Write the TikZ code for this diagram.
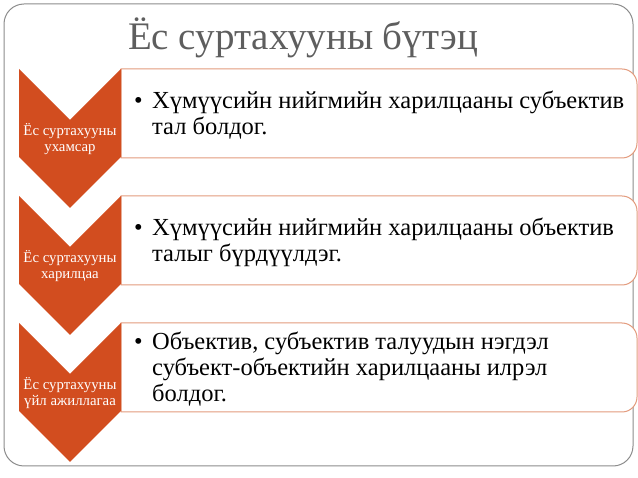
\documentclass[tikz,border=0pt]{standalone}
\usepackage{fontspec}
\setmainfont{Liberation Serif}
\usepackage{xcolor}
\definecolor{chevron_orange}{HTML}{D24D1F}
\definecolor{box_border}{HTML}{E39B7D}
\definecolor{frame_grey}{HTML}{8C8C8C}
\definecolor{title_grey}{HTML}{5E5E5E}

\begin{document}
\begin{tikzpicture}[x=1pt,y=-1pt,
        chevtext/.style={white, align=center, inner sep=0pt, font=\fontsize{14.8}{16}\selectfont},
        bodytext/.style={black, align=left, inner sep=0pt, font=\fontsize{24.5}{26}\selectfont}]
        % Cadre
        \useasboundingbox (0,0) rectangle (638,478);
        \draw[frame_grey, line width=1pt, rounded corners=20pt] (4,4) rectangle (633,466);
        % Titre
        \node[title_grey, font=\fontsize{39}{48}\selectfont] (titre) at (303,38) {Ёс суртахууны бүтэц};

        % Chevrons et rectangles
        \foreach \i/\ytop/\label/\lines in {1/69/{ухамсар}/{Хүмүүсийн нийгмийн харилцааны субъектив\\тал болдог.}, 2/196/{харилцаа}/{Хүмүүсийн нийгмийн харилцааны объектив\\талыг бүрдүүлдэг.}, 3/323/{үйл ажиллагаа}/{Объектив, субъектив талуудын нэгдэл\\субъект-объектийн харилцааны илрэл\\болдог.}} {
        % Rectangle arrondi a droite
        \filldraw[fill=white, draw=box_border, line width=1pt] (121,\ytop) -- (622,\ytop) arc[start angle=90, end angle=0, radius=15pt] -- (637,\ytop+74) arc[start angle=0, end angle=-90, radius=15pt] -- (121,\ytop+89) -- cycle;
        % Chevron
        \fill[chevron_orange] (19,\ytop) -- (70,\ytop+51) -- (121,\ytop) -- (121,\ytop+88) -- (70,\ytop+139) -- (19,\ytop+88) -- cycle;
        % Etiquette du chevron
        \node[chevtext] (C\i) at (70,\ytop+70) {Ёс суртахууны\\\label};
        % Texte et puce
        \node[bodytext, anchor=west] (T\i) at (152,\ytop+46) {\strut\lines};
        \node[bodytext, anchor=north east] (B\i) at ([xshift=-9pt]T\i.north west) {\strut•};
        }

    \end{tikzpicture}
\end{document}
